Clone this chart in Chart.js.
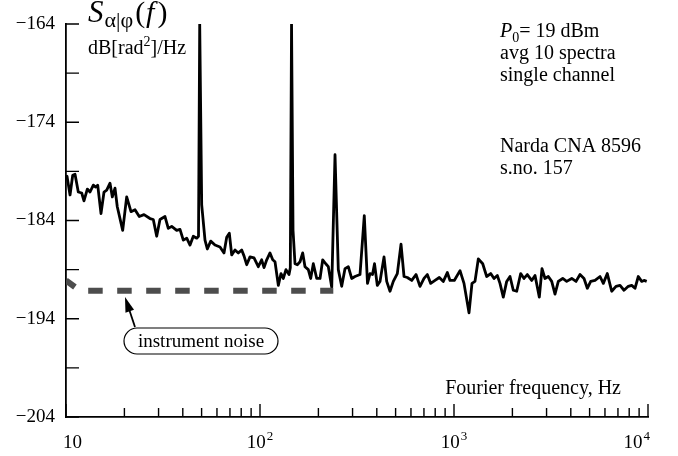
<!DOCTYPE html>
<html>
<head>
<meta charset="utf-8">
<script src="https://cdn.jsdelivr.net/npm/chart.js@4.4.1/dist/chart.umd.min.js"></script>
<style>
  html, body { margin: 0; padding: 0; background: #fff; }
  #wrap { width: 678px; height: 456px; }
</style>
</head>
<body>
<div id="wrap"><canvas id="chart" width="678" height="456"></canvas></div>
<script>
// phase noise spectrum (Hz, dB[rad^2]/Hz)
const freq = [
  10.0, 10.12, 10.49, 10.83, 11.13, 11.57, 12.05, 12.38, 12.88, 13.30,
  13.83, 14.23, 14.57, 15.15, 15.70, 16.21, 16.86, 17.33, 17.89, 18.38,
  19.60, 20.55, 21.63, 22.68, 23.86, 25.24, 27.10, 28.18, 29.34, 30.51,
  32.38, 33.67, 35.06, 37.20, 38.69, 40.24, 41.90, 43.58, 45.31, 47.18,
  48.20, 48.89, 50.06, 52.06, 53.51, 55.71, 58.61, 62.20, 65.22, 67.36,
  69.47, 71.47, 74.32, 77.29, 80.48, 82.70, 85.39, 88.82, 93.14, 98.0,
  102.0, 104.9, 108.3, 112.6, 116.3, 119.5, 124.3, 128.3, 131.9, 136.1,
  141.1, 143.3, 145.4, 148.0, 151.5, 155.7, 160.8, 166.0, 170.6, 177.4,
  182.5, 188.3, 196.1, 203.9, 210.5, 218.2, 225.0, 234.3, 243.6, 253.3,
  263.7, 274.2, 285.2, 296.9, 308.8, 327.7, 344.8, 358.2, 369.0, 380.1,
  389.3, 402.4, 415.5, 435.8, 449.9, 467.9, 486.6, 510.3, 533.2, 552.6,
  574.7, 605.6, 637.2, 667.9, 700.5, 728.5, 758.5, 798.3, 840.1, 880.9,
  923.8, 953.7, 1003.5, 1074, 1126, 1195, 1238, 1283, 1335, 1406,
  1474, 1546, 1608, 1672, 1726, 1795, 1869, 1944, 2021, 2105,
  2207, 2295, 2387, 2515, 2616, 2753, 2842, 2945, 3063, 3189,
  3316, 3449, 3634, 3810, 4044, 4256, 4462, 4679, 4866, 5066,
  5332, 5658, 5884, 6169, 6500, 6841, 7174, 7522, 7915, 8241,
  8570, 8913, 9280, 9537, 9847
];
const psd = [
  -179.7, -179.5, -181.4, -179.4, -179.3, -181.1, -181.2, -182.0, -180.8, -181.1,
  -180.4, -180.6, -180.4, -183.3, -181.1, -180.9, -180.2, -181.6, -180.7, -182.6,
  -185.0, -181.6, -183.1, -182.9, -183.6, -183.4, -183.8, -183.9, -185.6, -183.9,
  -183.6, -184.8, -184.6, -185.0, -184.9, -186.0, -185.8, -186.5, -185.6, -185.8,
  -185.6, -164.0, -182.4, -186.0, -186.9, -186.1, -186.5, -186.7, -187.3, -185.7,
  -185.3, -187.5, -187.0, -187.3, -187.0, -187.6, -188.5, -187.7, -187.8, -188.7,
  -188.0, -188.8, -188.0, -187.3, -188.0, -188.2, -190.6, -189.4, -189.9, -189.0,
  -189.5, -188.8, -164.0, -185.0, -188.4, -188.5, -188.2, -187.3, -188.7, -189.0,
  -189.9, -188.4, -189.9, -189.9, -188.0, -188.4, -188.7, -190.8, -177.3, -189.0,
  -190.7, -188.9, -188.7, -189.9, -189.7, -189.5, -183.5, -190.4, -189.4, -189.5,
  -188.4, -190.6, -190.2, -187.7, -190.2, -191.2, -190.2, -189.4, -186.4, -189.7,
  -189.8, -190.1, -189.5, -190.7, -189.9, -189.5, -190.4, -190.1, -189.8, -190.2,
  -189.3, -190.1, -190.1, -189.1, -190.4, -193.4, -190.4, -190.2, -187.9, -188.4,
  -189.7, -189.4, -189.9, -189.6, -190.4, -191.8, -190.2, -189.7, -191.1, -191.2,
  -189.4, -189.9, -189.5, -190.1, -189.6, -191.8, -188.9, -189.9, -189.7, -190.2,
  -191.5, -190.2, -189.9, -190.2, -189.9, -190.2, -189.5, -189.9, -190.9, -190.2,
  -190.1, -189.7, -190.4, -189.4, -191.2, -190.7, -190.6, -191.1, -190.7, -190.6,
  -190.9, -189.7, -190.2, -190.1, -190.2
];

// instrument noise floor (dashed)
const noiseFreq = [10, 11.8, 238.7];
const noiseLevel = [-190.1, -191.15, -191.15];

const yMin = -204, yMax = -164;
const xMin = 10, xMax = 10000;
const xDecades = [10, 100, 1000, 10000];
const xExponents = ['', '2', '3', '4'];
const runNotes = ['avg 10 spectra', 'single channel'];
const instrNotes = ['Narda CNA 8596', 's.no. 157'];

const SERIF = '"Liberation Serif", "Times New Roman", serif';
Chart.defaults.font.family = SERIF;
Chart.defaults.color = '#000';

function put(ctx, s, x, y, size, style) {
  ctx.font = `${style || ''} ${size}px ${SERIF}`;
  ctx.fillText(s, x, y);
  return ctx.measureText(s).width;
}

const decorations = {
  id: 'decorations',
  afterDraw(chart) {
    const ctx = chart.ctx;
    const xs = chart.scales.x, ys = chart.scales.y;
    const { left, bottom } = chart.chartArea;
    ctx.save();
    ctx.strokeStyle = '#000';
    ctx.fillStyle = '#000';
    ctx.lineWidth = 1.4;

    // inward ticks
    ctx.beginPath();
    ys.ticks.forEach(t => {
      const py = ys.getPixelForValue(t.value);
      ctx.moveTo(left, py); ctx.lineTo(left + 13, py);
    });
    xs.ticks.forEach(t => {
      const px = xs.getPixelForValue(t.value);
      const major = xDecades.includes(t.value);
      ctx.moveTo(px, bottom); ctx.lineTo(px, bottom - (major ? 13 : 9));
    });
    ctx.stroke();

    // x tick labels with exponents
    ctx.textBaseline = 'alphabetic';
    ctx.textAlign = 'left';
    xDecades.forEach((d, i) => {
      ctx.font = `19px ${SERIF}`;
      const wBase = ctx.measureText('10').width;
      ctx.font = `13px ${SERIF}`;
      const wExp = xExponents[i] ? ctx.measureText(xExponents[i]).width + 1 : 0;
      const w = wBase + wExp;
      let x0 = xs.getPixelForValue(d) - w / 2;
      x0 = Math.max(63, Math.min(x0, 650 - w));
      put(ctx, '10', x0, 448, 19);
      if (xExponents[i]) put(ctx, xExponents[i], x0 + wBase + 1, 440, 13);
    });

    // y axis title
    let x = 88;
    x += put(ctx, 'S', x, 22, 31, 'italic');
    x += put(ctx, 'α|φ', x + 1, 27, 22) + 3;
    x += put(ctx, '(', x, 22, 30);
    x += put(ctx, 'f', x + 1, 22, 30, 'italic') + 4;
    put(ctx, ')', x, 22, 30);

    x = 88;
    x += put(ctx, 'dB[rad', x, 54, 20);
    x += put(ctx, '2', x, 46, 14);
    put(ctx, ']/Hz', x, 54, 20);

    // run notes
    x = 500;
    x += put(ctx, 'P', x, 37, 20, 'italic');
    x += put(ctx, '0', x, 42, 14);
    put(ctx, '= 19 dBm', x, 37, 20);
    runNotes.forEach((s, i) => put(ctx, s, 500, 59 + i * 21.5, 20));
    instrNotes.forEach((s, i) => put(ctx, s, 500, 152 + i * 21.5, 20));

    // x axis title
    ctx.textAlign = 'right';
    put(ctx, 'Fourier frequency, Hz', 621, 394, 20);

    // instrument noise callout
    ctx.lineWidth = 1.2;
    ctx.beginPath();
    ctx.roundRect(124, 328, 154, 26, 13);
    ctx.stroke();
    ctx.textAlign = 'center';
    put(ctx, 'instrument noise', 201, 347, 19);

    const tip = [125, 297], tail = [135, 327];
    const ang = Math.atan2(tip[1] - tail[1], tip[0] - tail[0]);
    ctx.lineWidth = 1.8;
    ctx.beginPath();
    ctx.moveTo(tail[0], tail[1]);
    ctx.lineTo(tip[0] - 10 * Math.cos(ang), tip[1] - 10 * Math.sin(ang));
    ctx.stroke();
    ctx.beginPath();
    ctx.moveTo(tip[0], tip[1]);
    ctx.lineTo(tip[0] - 15 * Math.cos(ang) + 4.5 * Math.sin(ang), tip[1] - 15 * Math.sin(ang) - 4.5 * Math.cos(ang));
    ctx.lineTo(tip[0] - 15 * Math.cos(ang) - 4.5 * Math.sin(ang), tip[1] - 15 * Math.sin(ang) + 4.5 * Math.cos(ang));
    ctx.closePath();
    ctx.fill();
    ctx.restore();
  }
};

new Chart(document.getElementById('chart'), {
  type: 'line',
  data: {
    datasets: [
      {
        label: 'instrument noise',
        data: noiseFreq.map((f, i) => ({ x: f, y: noiseLevel[i] })),
        borderColor: '#4d4d4d',
        borderWidth: 6,
        borderDash: [14.5, 14.5],
        borderDashOffset: 3.4,
        borderCapStyle: 'butt',
        pointRadius: 0,
        tension: 0
      },
      {
        label: 'S',
        data: freq.map((f, i) => ({ x: f, y: psd[i] })),
        borderColor: '#000',
        borderWidth: 2.8,
        borderJoinStyle: 'round',
        pointRadius: 0,
        tension: 0
      }
    ]
  },
  options: {
    responsive: false,
    animation: false,
    devicePixelRatio: 1,
    layout: { padding: { left: 0, top: 24, right: 30, bottom: 0 } },
    plugins: { legend: { display: false }, tooltip: { enabled: false } },
    scales: {
      x: {
        type: 'logarithmic',
        min: xMin, max: xMax,
        grid: { display: false, drawTicks: false },
        border: { display: true, color: '#000', width: 1.8 },
        ticks: { display: false },
        afterBuildTicks: s => {
          const t = [];
          xDecades.forEach(d => {
            for (let k = 1; k < 10; k++) if (k * d <= xMax) t.push({ value: k * d });
          });
          s.ticks = t;
        },
        afterFit: s => { s.height = 39; }
      },
      y: {
        type: 'linear',
        min: yMin, max: yMax,
        grid: { display: false, drawTicks: false },
        border: { display: true, color: '#000', width: 1.8 },
        ticks: {
          stepSize: 5,
          padding: 11,
          color: '#000',
          font: { size: 19, family: SERIF },
          callback: v => ((v - yMin) % 10 === 0 ? '\u2212' + Math.abs(v) : '')
        },
        afterFit: s => { s.width = 66; }
      }
    }
  },
  plugins: [decorations]
});
</script>
</body>
</html>
